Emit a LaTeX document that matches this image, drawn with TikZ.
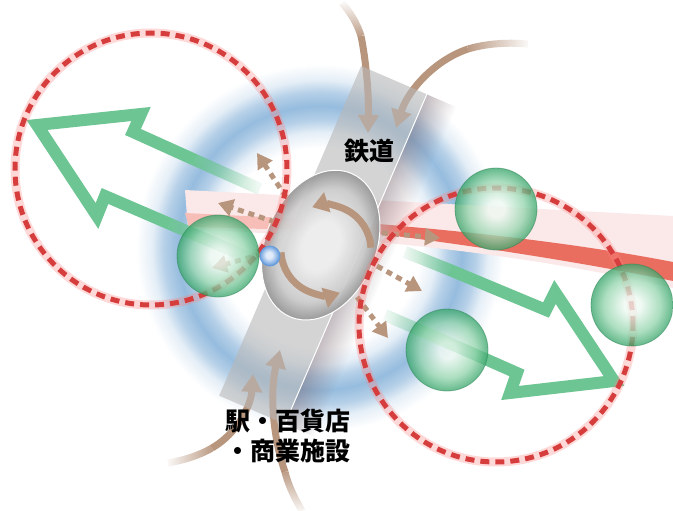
\documentclass[tikz,border=0pt]{standalone}
\usepackage{fontspec}
\newfontfamily\jp{Noto Sans CJK JP}
\usetikzlibrary{arrows.meta,fadings}
\definecolor{ringblue}{RGB}{150,188,222}
\definecolor{brownA}{RGB}{184,150,126}
\definecolor{greenA}{RGB}{108,197,146}
\definecolor{redA}{RGB}{214,62,62}
\definecolor{coral}{RGB}{234,110,96}
\definecolor{pinkA}{RGB}{251,232,232}
\definecolor{gc0}{RGB}{238,249,242}
\definecolor{gc1}{RGB}{150,214,175}
\definecolor{gc2}{RGB}{58,166,108}
\definecolor{ec0}{RGB}{240,240,240}
\definecolor{ec1}{RGB}{205,205,205}
\definecolor{ec2}{RGB}{150,150,150}
\definecolor{bc0}{RGB}{225,235,250}
\definecolor{bc1}{RGB}{100,155,220}
\definecolor{shadowc}{RGB}{110,90,100}
\pgfdeclareradialshading{bluering}{\pgfpointorigin}{color(0bp)=(white); color(12.5bp)=(white); color(14.5bp)=(ringblue!25!white); color(16bp)=(ringblue!70!white); color(17.75bp)=(ringblue); color(19.5bp)=(ringblue!70!white); color(21bp)=(ringblue!25!white); color(23bp)=(white); color(25bp)=(white); color(50bp)=(white)}
\pgfdeclareradialshading{gball}{\pgfpointorigin}{color(0bp)=(gc0); color(5bp)=(gc0); color(17bp)=(gc1); color(25bp)=(gc2); color(50bp)=(gc2)}
\pgfdeclareradialshading{eball}{\pgfpointorigin}{color(0bp)=(ec0); color(8bp)=(ec0); color(19bp)=(ec1); color(25bp)=(ec2); color(50bp)=(ec2)}
\pgfdeclareradialshading{bball}{\pgfpoint{-3bp}{3bp}}{color(0bp)=(bc0); color(8bp)=(bc0); color(25bp)=(bc1); color(50bp)=(bc1)}
\tikzfading[name=fadeinR, left color=transparent!100, right color=transparent!0]
\tikzfading[name=fadeinL, left color=transparent!0, right color=transparent!100]
\tikzfading[name=fadeT, top color=transparent!100, bottom color=transparent!0]
\tikzfading[name=fadeB, top color=transparent!0, bottom color=transparent!100]
\begin{document}
\begin{tikzpicture}[x=1pt,y=-1pt,
  circarrow/.style={draw=brownA, line width=7pt, -{Triangle[length=16pt,width=20pt]}},
  inarrow/.style={draw=brownA, line width=7pt, -{Triangle[length=18pt,width=20pt]}},
  intail/.style={draw=brownA, line width=7pt},
  dotarrow/.style={draw=brownA, line width=5pt, dash pattern=on 6pt off 5pt, -{Triangle[length=15pt,width=17pt]}},
  hollow/.style={draw=greenA, line width=12pt, line join=miter, miter limit=10},
  shaft/.style={draw=greenA, line width=12pt},
  redhalo/.style={draw=red!50!white, line width=9pt, opacity=.3},
  reddash/.style={draw=redA, line width=5pt, dash pattern=on 9pt off 6pt},
  ballstyle/.style={shading=gball, opacity=.78},
  ballrim/.style={draw=gc2!80!black, line width=.8pt, opacity=.5},
  jptext/.style={font=\jp\bfseries\fontsize{25pt}{30pt}\selectfont, text=black, inner sep=0pt}]
\useasboundingbox (0,0) rectangle (673,511);
\fill[white] (0,0) rectangle (673,511);
% blue halo ring
\shade[shading=bluering] (320,248) circle[radius=200pt];
% pink band and red line
\fill[pinkA] (185,190) -- (673,216) -- (673,288) .. controls (560,262) and (420,240) .. (188,229) -- cycle;
\fill[coral!45!white] (185,213) -- (305,219) -- (305,230) -- (189,227) -- cycle;
\fill[coral, path fading=fadeinR] (355,222) -- (402,226) -- (402,236.5) -- (355,232) -- cycle;
\fill[coral] (400,226) .. controls (480,233) and (580,244) .. (673,262) -- (673,281) .. controls (580,262) and (480,247) .. (400,236.5) -- cycle;
% incoming brown arrows
\draw[intail, path fading=fadeT] (342,3) .. controls (350,12) and (357,23) .. (361,36);
\draw[inarrow] (361,36) .. controls (366,60) and (369,95) .. (368,133);
\draw[intail, path fading=fadeinL] (528,44) .. controls (505,42) and (485,44) .. (468,49);
\draw[inarrow] (468,49) .. controls (435,60) and (408,90) .. (396,128);
\draw[intail, path fading=fadeinR] (168,463) .. controls (185,460) and (200,455) .. (212,448);
\draw[inarrow] (212,448) .. controls (238,433) and (251,405) .. (253,374);
\draw[intail, path fading=fadeB] (302,511) .. controls (296,500) and (289,488) .. (285,472);
\draw[inarrow] (285,472) .. controls (272,435) and (270,390) .. (280,350);
% railway band, its shadow and the central ball
\begin{scope}[transform canvas={shift={(323,245)}, rotate=-23.3}]
  \fill[shadowc, opacity=.4, path fading=fadeinL] (35.75,-179.5) rectangle (68,179.5);
  \fill[black!28, opacity=.6] (-35.75,-179.5) rectangle (35.75,179.5);
  \draw[white, line width=1pt] (35.75,-179.5) -- (35.75,179.5);
  \shade[shading=eball, opacity=.92] (-2,1) ellipse[x radius=55pt, y radius=78pt];
  \draw[white, line width=1pt] (-2,1) ellipse[x radius=55pt, y radius=78pt];
\end{scope}
% circular arrows
\draw[circarrow] ([shift={(326,250)}]-3:45) arc[start angle=-3, end angle=-108, radius=45];
\draw[circarrow] ([shift={(326,250)}]177:45) arc[start angle=177, end angle=72, radius=45];
% green hollow arrows
\draw[hollow] (195,160) -- (133,132) -- (141,114) -- (37,125) -- (97,216) -- (105,196) -- (170,224);
\draw[shaft, path fading=fadeinL] (195,160) -- (260,189);
\draw[shaft, path fading=fadeinL] (170,224) -- (252,259);
\draw[hollow] (450,270) -- (546,310) -- (555,292) -- (614,381) -- (510,393) -- (517,373) -- (440,339);
\draw[shaft, path fading=fadeinR] (405,252) -- (450,270);
\draw[shaft, path fading=fadeinR] (385,315) -- (440,339);
% dotted arrows
\draw[dotarrow] (286,197) -- (257,153);
\draw[dotarrow] (275,222) -- (218,203);
\draw[dotarrow] (262,254) -- (212,268);
\draw[dotarrow] (382,233) -- (440,238);
\draw[dotarrow] (377,266) -- (422,291);
\draw[dotarrow] (357,297) -- (388,338);
% red dashed circles
\draw[redhalo] (151,169) circle[radius=136pt];
\draw[reddash] (151,169) circle[radius=136pt];
\draw[redhalo] (496,325) circle[radius=137pt];
\draw[reddash] (496,325) circle[radius=137pt];
% green balls
\foreach \p in {(218,256),(496,209),(632,305),(447,350)} {
  \shade[ballstyle] \p circle[radius=41pt];
  \draw[ballrim] \p circle[radius=41pt];
}
% small blue ball
\shade[shading=bball] (270,256) circle[radius=10pt];
\draw[draw=bc1, line width=.8pt] (270,256) circle[radius=10pt];
% labels
\node[jptext] (rail) at (369,151) {鉄道};
\node[jptext, align=left] (station) at (288,436) {駅・百貨店\\・商業施設};
\end{tikzpicture}
\end{document}
